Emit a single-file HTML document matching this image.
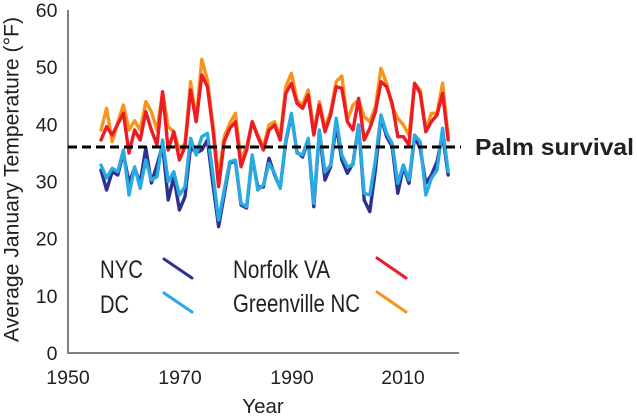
<!DOCTYPE html>
<html>
<head>
<meta charset="utf-8">
<style>
  html,body{margin:0;padding:0;background:#fff;}
  svg{display:block;}
  text{font-family:"Liberation Sans", Arial, sans-serif;fill:#231f20;}
</style>
</head>
<body>
<svg width="637" height="419" viewBox="0 0 637 419" xmlns="http://www.w3.org/2000/svg">
  <rect width="637" height="419" fill="#fff"/>
  <!-- axes -->
  <line x1="68" y1="10" x2="68" y2="354" stroke="#808080" stroke-width="2"/>
  <line x1="67" y1="353" x2="459" y2="353" stroke="#808080" stroke-width="2"/>

  <!-- y tick labels -->
  <g font-size="19.5" text-anchor="end">
    <text x="57.5" y="17">60</text>
    <text x="57.5" y="74.2">50</text>
    <text x="57.5" y="131.3">40</text>
    <text x="57.5" y="188.5">30</text>
    <text x="57.5" y="245.7">20</text>
    <text x="57.5" y="302.8">10</text>
    <text x="57.5" y="360">0</text>
  </g>
  <!-- x tick labels -->
  <g font-size="19.5" text-anchor="middle">
    <text x="68" y="384">1950</text>
    <text x="180" y="384">1970</text>
    <text x="292" y="384">1990</text>
    <text x="403" y="384">2010</text>
  </g>
  <text x="263" y="413" font-size="20.5" text-anchor="middle">Year</text>
  <text transform="translate(18.5,179.5) rotate(-90)" font-size="21" text-anchor="middle" textLength="325" lengthAdjust="spacingAndGlyphs">Average January Temperature (°F)</text>

  <g fill="none" stroke-width="3.4" stroke-linejoin="round" stroke-linecap="round">
    <!-- Greenville NC (orange) -->
    <polyline stroke="#f7941d" points="101,130 106.6,108.3 112.2,141.7 117.8,122 123.4,105 129,130 134.6,120.7 140.2,130 145.8,101.7 151.4,111.7 157,130 162.6,92 168.2,126.7 173.8,131.7 179.4,150 185,143 190.6,81.7 196.2,120 201.8,59.3 207.4,80 213,125 218.6,177 224.2,136.7 229.8,123.3 235.4,113.3 241,160 246.6,146.7 252.2,121.7 257.8,135 263.4,146.7 269,125 274.6,121.7 280.2,136.7 285.8,86.7 291.4,73.3 297,100 302.6,105 308.2,90 313.8,131.7 319.4,101.7 325,128.3 330.6,111.7 336.2,81.7 341.8,76 347.4,120 353,105 358.6,100 364.2,116.7 369.8,121.7 375.4,106.7 381,68.3 386.6,83.3 392.2,106.7 397.8,118.3 403.4,125 409,135 414.6,83.3 420.2,90 425.8,130 431.4,113.3 437,113.3 442.6,83.3 448.2,137"/>
    <!-- Norfolk VA (red) -->
    <polyline stroke="#ed1c24" points="101,140 106.6,126.7 112.2,135 117.8,124 123.4,113.3 129,153 134.6,130 140.2,140 145.8,111.7 151.4,130 157,145 162.6,91.7 168.2,150 173.8,131.7 179.4,160 185,146.7 190.6,90 196.2,121.7 201.8,75 207.4,86.7 213,130 218.6,186.7 224.2,141.7 229.8,128.3 235.4,121.7 241,166.7 246.6,150 252.2,121.7 257.8,136.7 263.4,150 269,130 274.6,125 280.2,140 285.8,93.3 291.4,83.3 297,103.3 302.6,108.3 308.2,95 313.8,135 319.4,105 325,131.7 330.6,115 336.2,86.7 341.8,88.3 347.4,121.7 353,130 358.6,98.3 364.2,140 369.8,128.3 375.4,111.7 381,81.7 386.6,86.7 392.2,103.3 397.8,136.7 403.4,136.7 409,145 414.6,83.3 420.2,93.3 425.8,131.7 431.4,121.7 437,115 442.6,93.3 448.2,140"/>
    <!-- NYC (navy) -->
    <polyline stroke="#2e3192" points="101,170 106.6,190 112.2,171.7 117.8,175 123.4,153 129,183 134.6,168 140.2,183 145.8,148 151.4,183 157,165 162.6,145 168.2,200 173.8,176.7 179.4,210 185,196.7 190.6,146.7 196.2,153 201.8,150 207.4,140 213,185 218.6,226.7 224.2,195 229.8,163 235.4,161 241,205 246.6,208 252.2,157 257.8,187 263.4,187 269,158.3 274.6,175 280.2,188 285.8,142 291.4,115 297,152 302.6,157 308.2,140 313.8,206.7 319.4,132 325,180 330.6,166.7 336.2,125 341.8,160 347.4,173.3 353,163.3 358.6,125 364.2,200 369.8,211.7 375.4,170 381,116.7 386.6,136.7 392.2,146.7 397.8,193.3 403.4,166.7 409,183.3 414.6,136.7 420.2,148.3 425.8,183.3 431.4,175 437,161.7 442.6,135 448.2,175"/>
    <!-- DC (light blue) -->
    <polyline stroke="#29abe2" points="101,165 106.6,178 112.2,168.3 117.8,171.7 123.4,150 129,195 134.6,166.7 140.2,188.3 145.8,160 151.4,180 157,176.7 162.6,140 168.2,181.7 173.8,171.7 179.4,195 185,186.7 190.6,138.3 196.2,155 201.8,136.7 207.4,133.3 213,175 218.6,220 224.2,190 229.8,161.7 235.4,160 241,203.3 246.6,206.7 252.2,155 257.8,190 263.4,185 269,163.3 274.6,173.3 280.2,188.3 285.8,140 291.4,113.3 297,153.3 302.6,155 308.2,138.3 313.8,203.3 319.4,130 325,172 330.6,165 336.2,118.3 341.8,155 347.4,166.7 353,165 358.6,125 364.2,193.3 369.8,195 375.4,160 381,115 386.6,133.3 392.2,143.3 397.8,183.3 403.4,165 409,180 414.6,135 420.2,141.7 425.8,195 431.4,178.3 437,170 442.6,128.3 448.2,171.7"/>
  </g>

  <!-- palm survival dashed line -->
  <line x1="68" y1="147" x2="461" y2="147" stroke="#000" stroke-width="3" stroke-dasharray="9,5"/>
  <text x="475" y="155" font-size="23.5" font-weight="bold" textLength="159" lengthAdjust="spacingAndGlyphs" style="fill:#231f20">Palm survival</text>

  <!-- legend -->
  <g font-size="25">
    <text x="100" y="278" textLength="43" lengthAdjust="spacingAndGlyphs">NYC</text>
    <text x="100" y="313" textLength="29" lengthAdjust="spacingAndGlyphs">DC</text>
    <text x="233" y="278" textLength="97" lengthAdjust="spacingAndGlyphs">Norfolk VA</text>
    <text x="233" y="312" textLength="127" lengthAdjust="spacingAndGlyphs">Greenville NC</text>
  </g>
  <g stroke-width="3" stroke-linecap="round">
    <line x1="164" y1="259" x2="192" y2="278" stroke="#2e3192"/>
    <line x1="164" y1="293" x2="192" y2="312" stroke="#29abe2"/>
    <line x1="377" y1="258" x2="406" y2="278" stroke="#ed1c24"/>
    <line x1="377" y1="292" x2="406" y2="312" stroke="#f7941d"/>
  </g>
</svg>
</body>
</html>
